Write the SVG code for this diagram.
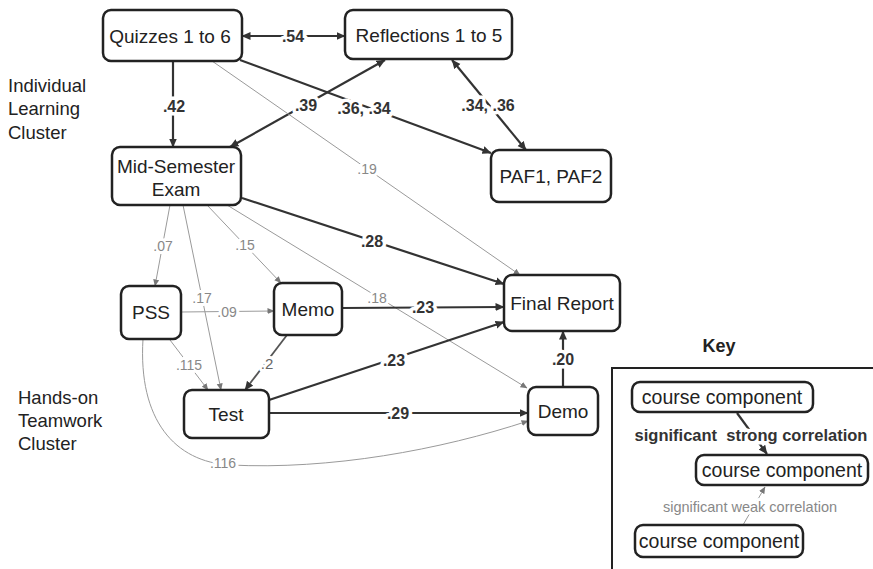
<svg xmlns="http://www.w3.org/2000/svg" width="873" height="569" viewBox="0 0 873 569">
<style>
.node rect{fill:#fff;stroke:#222;stroke-width:2.5}
.nt{font-family:"Liberation Sans",Arial,sans-serif;font-size:19px;fill:#222;text-anchor:middle}
.s{stroke:#333;stroke-width:2.2;fill:none}
.m{stroke:#555;stroke-width:1.8;fill:none}
.w{stroke:#9a9a9a;stroke-width:1;fill:none}
.ls{font-family:"Liberation Sans",Arial,sans-serif;font-size:16px;font-weight:bold;fill:#333;text-anchor:middle;paint-order:stroke;stroke:#fff;stroke-width:7px;stroke-linejoin:round}
.lw{font-family:"Liberation Sans",Arial,sans-serif;font-size:14px;fill:#888;text-anchor:middle;paint-order:stroke;stroke:#fff;stroke-width:6px;stroke-linejoin:round}
.cl{font-family:"Liberation Sans",Arial,sans-serif;font-size:18.5px;fill:#222}
</style>
<defs>
<marker id="as" markerUnits="userSpaceOnUse" markerWidth="9" markerHeight="9" refX="8.5" refY="4.5" orient="auto-start-reverse"><path d="M0,0.5 L9,4.5 L0,8.5 z" fill="#333"/></marker>
<marker id="aw" markerUnits="userSpaceOnUse" markerWidth="7" markerHeight="7" refX="6.5" refY="3.5" orient="auto-start-reverse"><path d="M0,0.5 L7,3.5 L0,6.5 z" fill="#777"/></marker>
</defs>
<rect width="873" height="569" fill="#fff"/>

<g id="cluster-labels">
<text class="cl" x="8" y="92">Individual</text>
<text class="cl" x="8" y="115">Learning</text>
<text class="cl" x="8" y="139">Cluster</text>
<text class="cl" x="18" y="404">Hands-on</text>
<text class="cl" x="18" y="427">Teamwork</text>
<text class="cl" x="18" y="450">Cluster</text>
</g>

<g id="connectors">
<path class="s" d="M242,36 L345,36" marker-start="url(#as)" marker-end="url(#as)"/>
<path class="s" d="M173,61 L173,147" marker-end="url(#as)"/>
<path class="s" d="M230,147 L385,60" marker-start="url(#as)" marker-end="url(#as)"/>
<path class="s" d="M240,60 L491,153" marker-end="url(#as)"/>
<path class="s" d="M452,60 L526,150" marker-start="url(#as)" marker-end="url(#as)"/>
<path class="w" d="M212,61 L520,275" marker-end="url(#aw)"/>
<path class="s" d="M242,198 L504,284" marker-end="url(#as)"/>
<path class="w" d="M170,205 L155,286" marker-end="url(#aw)"/>
<path class="w" d="M183,205 L221,390" marker-end="url(#aw)"/>
<path class="w" d="M207,205 L281,283" marker-end="url(#aw)"/>
<path class="w" d="M227,205 L527,388" marker-end="url(#aw)"/>
<path class="w" d="M181,312 L274,311" marker-end="url(#aw)"/>
<path class="s" d="M342,308 L504,307" marker-end="url(#as)"/>
<path class="w" d="M170,340 L208,390" marker-end="url(#aw)"/>
<path class="m" d="M287,335 L245,390" marker-end="url(#as)"/>
<path class="s" d="M269,400 L504,322" marker-end="url(#as)"/>
<path class="s" d="M269,413 L528,413" marker-end="url(#as)"/>
<path class="s" d="M563,387 L563,331" marker-end="url(#as)"/>
<path class="w" d="M143,339 C138,420 175,462 230,465 C330,470 440,450 528,421" marker-end="url(#aw)"/>

<text class="ls" x="293" y="42">.54</text>
<text class="ls" x="174" y="112">.42</text>
<text class="ls" x="306" y="111">.39</text>
<text class="ls" x="364" y="114">.36, .34</text>
<text class="ls" x="488" y="111">.34, .36</text>
<text class="lw" x="367" y="174">.19</text>
<text class="ls" x="372" y="247">.28</text>
<text class="lw" x="163" y="251">.07</text>
<text class="lw" x="202" y="303">.17</text>
<text class="lw" x="245" y="250">.15</text>
<text class="lw" x="377" y="303">.18</text>
<text class="lw" x="227" y="317">.09</text>
<text class="ls" x="423" y="313">.23</text>
<text class="lw" x="189" y="370">.115</text>
<text class="lw" x="267" y="369" style="font-size:15px;fill:#666">.2</text>
<text class="ls" x="394" y="366">.23</text>
<text class="ls" x="398" y="419">.29</text>
<text class="ls" x="563" y="365">.20</text>
<text class="lw" x="223" y="468">.116</text>
</g>

<g id="quizzes" class="node"><rect x="103" y="10" width="139" height="51" rx="8"/><text class="nt" x="170" y="43">Quizzes 1 to 6</text></g>
<g id="reflections" class="node"><rect x="345" y="10" width="167" height="49" rx="8"/><text class="nt" x="429" y="42">Reflections 1 to 5</text></g>
<g id="midsem" class="node"><rect x="112" y="147" width="129" height="58" rx="8"/><text class="nt" x="176" y="173">Mid-Semester</text><text class="nt" x="176" y="196">Exam</text></g>
<g id="paf" class="node"><rect x="491" y="150" width="120" height="52" rx="8"/><text class="nt" x="551" y="183">PAF1, PAF2</text></g>
<g id="pss" class="node"><rect x="121" y="286" width="60" height="53" rx="8"/><text class="nt" x="151" y="319">PSS</text></g>
<g id="memo" class="node"><rect x="274" y="283" width="68" height="52" rx="8"/><text class="nt" x="308" y="316">Memo</text></g>
<g id="test" class="node"><rect x="184" y="390" width="85" height="48" rx="8"/><text class="nt" x="226" y="421">Test</text></g>
<g id="final" class="node"><rect x="504" y="275" width="116" height="56" rx="8"/><text class="nt" x="562" y="310">Final Report</text></g>
<g id="demo" class="node"><rect x="528" y="387" width="70" height="48" rx="8"/><text class="nt" x="563" y="418">Demo</text></g>

<g id="key">
<text x="719" y="352" style="font-family:'Liberation Sans',Arial,sans-serif;font-size:18px;font-weight:bold;fill:#222;text-anchor:middle">Key</text>
<path d="M873,368 L612,368 L612,569" style="fill:none;stroke:#222;stroke-width:2"/>
<path class="s" d="M737,413 L767,454" marker-end="url(#as)"/>
<path class="w" d="M743,525 L765,487" marker-end="url(#aw)"/>
<g id="key-node-1" class="node"><rect x="632" y="382" width="181" height="30" rx="8"/><text class="nt" x="722" y="404" style="font-size:19.5px">course component</text></g>
<text class="ls" x="751" y="441" style="font-size:16.5px" xml:space="preserve">significant  strong correlation</text>
<g id="key-node-2" class="node"><rect x="696" y="455" width="172" height="30" rx="8"/><text class="nt" x="782" y="477" style="font-size:19.5px">course component</text></g>
<text class="lw" x="750" y="512" style="font-size:14.5px">significant weak correlation</text>
<g id="key-node-3" class="node"><rect x="635" y="525" width="168" height="32" rx="8"/><text class="nt" x="719" y="548" style="font-size:19.5px">course component</text></g>
</g>
</svg>
